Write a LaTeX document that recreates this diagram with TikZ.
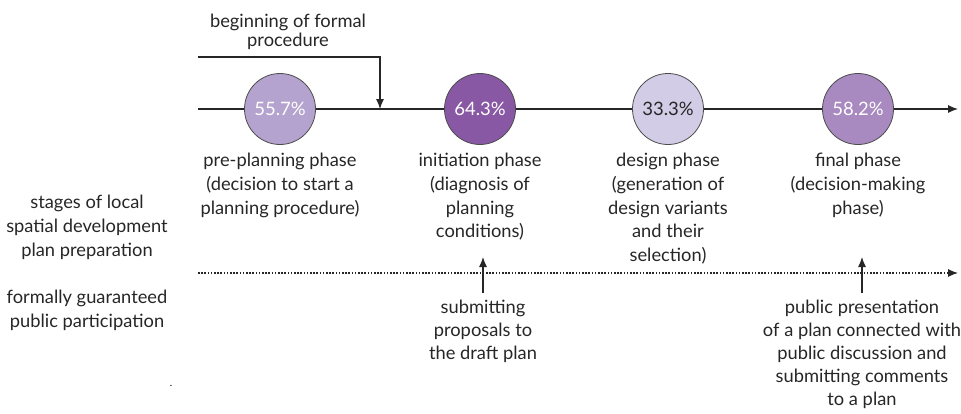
\documentclass[tikz,border=0pt]{standalone}
\usepackage{fontspec}
\setmainfont{Lato}
\usetikzlibrary{arrows.meta}
\begin{document}
\begin{tikzpicture}[x=1pt,y=-1pt,
  lbl/.style={font=\fontsize{18.3}{23.7}\selectfont\color{black!85}, align=center, inner sep=0pt, anchor=north},
  phase/.style={circle, draw=black!70, line width=0.8pt, minimum size=71pt, inner sep=0pt,
    font=\fontsize{18.5}{20}\selectfont},
  tl/.style={line width=1.1pt, black!85},
  arr/.style={-{Latex[length=10pt,width=8pt]}}]
\useasboundingbox (0,0) rectangle (961,413);
% main timeline
\coordinate (mstart) at (198,109);
\coordinate (mend) at (958,109);
\draw[tl,arr] (mstart) -- (mend);
% phase circles
\node[phase, fill={rgb,255:red,180;green,163;blue,206}, text=white] (p1) at (280,109) {55.7\%};
\node[phase, fill={rgb,255:red,137;green,88;blue,164}, text=white] (p2) at (480,109) {64.3\%};
\node[phase, fill={rgb,255:red,211;green,204;blue,231}, text=black!85] (p3) at (668,109) {33.3\%};
\node[phase, fill={rgb,255:red,168;green,137;blue,192}, text=white] (p4) at (858,109) {58.2\%};
% beginning of formal procedure
\node[lbl, font=\fontsize{18.3}{18.5}\selectfont\color{black!85}] (bf) at (288,14) {beginning of formal\\procedure};
\coordinate (bstart) at (198,57);
\coordinate (bcorner) at (380,57);
\coordinate (btip) at (380,109);
\draw[tl,arr] (bstart) -- (bcorner) -- (btip);
% phase descriptions
\node[lbl] (d1) at (280,153) {pre-planning phase\\(decision to start a\\planning procedure)};
\node[lbl] (d2) at (480,153) {initiation phase\\(diagnosis of\\planning\\conditions)};
\node[lbl] (d3) at (668,153) {design phase\\(generation of\\design variants\\and their\\selection)};
\node[lbl] (d4) at (858,153) {final phase\\(decision-making\\phase)};
% row labels
\node[lbl] (r1) at (87,195) {stages of local\\spatial development\\plan preparation};
\node[lbl] (r2) at (87,290) {formally guaranteed\\public participation};
\node[font=\fontsize{10}{10}\selectfont, inner sep=0pt] (dot) at (171,386) {.};
% participation timeline
\coordinate (pstart) at (198,273);
\coordinate (pend) at (958,273);
\draw[line width=1.1pt, black!85, dash pattern=on 1.6pt off 1.6pt, arr] (pstart) -- (pend);
\node[lbl, font=\fontsize{18.3}{23}\selectfont\color{black!85}] (s1) at (483,300) {submitting\\proposals to\\the draft plan};
\node[lbl, font=\fontsize{18.3}{23}\selectfont\color{black!85}] (s2) at (862,300) {public presentation\\of a plan connected with\\public discussion and\\submitting comments\\to a plan};
\coordinate (a1) at (483,257);
\coordinate (a2) at (862,257);
\draw[tl,arr] (s1.north) ++(0,-7) -- (a1);
\draw[tl,arr] (s2.north) ++(0,-7) -- (a2);
\end{tikzpicture}
\end{document}
